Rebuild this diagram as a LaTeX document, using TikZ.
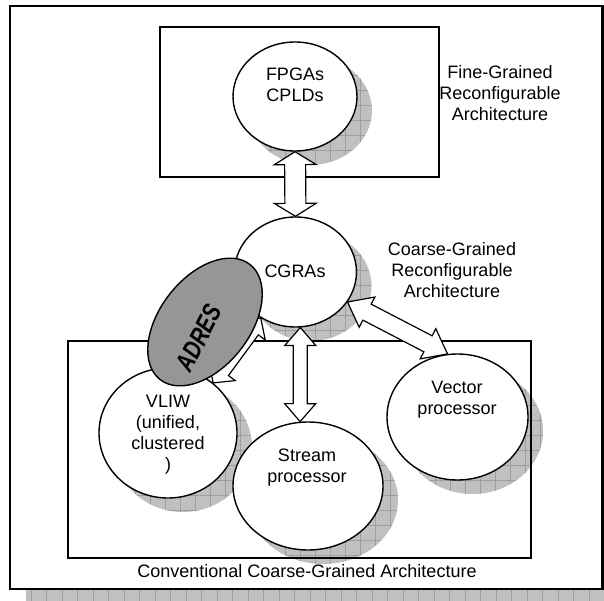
\documentclass[tikz,border=0pt]{standalone}
\usepackage{fontspec}
\setmainfont{Liberation Sans}
\usetikzlibrary{calc,shapes.geometric}

\definecolor{shadefill}{RGB}{192,192,192}
\definecolor{shadegrid}{RGB}{158,158,158}
\definecolor{adresfill}{RGB}{150,150,150}

\tikzset{
  bubble/.style={ellipse, draw=black, line width=1.4pt, fill=white, inner sep=0pt},
  region/.style={draw=black, line width=1.4pt},
  caption/.style={font=\fontsize{18}{21}\selectfont, align=center, inner sep=0pt},
  blockarrow/.style={draw=black, line width=1.2pt, fill=white, line join=miter},
  gridlines/.style={draw=shadegrid, line width=0.5pt},
}

% gridded drop shadow of an ellipse: centre x, centre y, x radius, y radius
\newcommand\ellshadow[4]{%
  \fill[shadefill] (#1+15,#2+14) ellipse [x radius=#3, y radius=#4];
  \begin{scope}
    \clip (#1+15,#2+14) ellipse [x radius=#3, y radius=#4];
    \draw[gridlines, step=15pt] (0,0) grid (604,601);
  \end{scope}}

% hollow double-headed block arrow between two points:
% #1,#2 tips, #3 head length, #4 half head width, #5 half shaft width
\newcommand\dblarrow[5]{%
  \draw[blockarrow] (#1)
    -- ($(#1)!#3!(#2)!#4!90:(#2)$)
    -- ($(#1)!#3!(#2)!#5!90:(#2)$)
    -- ($(#2)!#3!(#1)!#5!-90:(#1)$)
    -- ($(#2)!#3!(#1)!#4!-90:(#1)$)
    -- (#2)
    -- ($(#2)!#3!(#1)!#4!90:(#1)$)
    -- ($(#2)!#3!(#1)!#5!90:(#1)$)
    -- ($(#1)!#3!(#2)!#5!-90:(#2)$)
    -- ($(#1)!#3!(#2)!#4!-90:(#2)$)
    -- cycle;}

\begin{document}
\begin{tikzpicture}[x=1pt, y=-1pt]
  \useasboundingbox (0,0) rectangle (604,601);

  % outer frame with its gridded shadow
  \begin{scope}
    \clip (0,0) rectangle (604,601);
    \fill[shadefill] (26,20) rectangle (618,604);
    \begin{scope}
      \clip (26,20) rectangle (618,604);
      \draw[gridlines, step=15.5pt] (0,0) grid (620,620);
    \end{scope}
  \end{scope}
  \draw[line width=2.4pt, fill=white] (10,6) rectangle (602.5,589);

  % shadows of the bubbles
  \ellshadow{295}{96.5}{62}{54.5}
  \ellshadow{295.5}{272}{61}{55}
  \ellshadow{168}{433}{69}{65}
  \ellshadow{308}{486}{75}{64}
  \ellshadow{457.5}{417}{70.5}{63}

  % the two architecture regions
  \draw[region] (160,27) rectangle (439,177);
  \draw[region] (68,341) rectangle (531,558);

  % bubbles
  \node[bubble, minimum width=124pt, minimum height=109pt] (fpga) at (295,96.5) {};
  \node[bubble, minimum width=122pt, minimum height=110pt] (cgra) at (295.5,272) {};
  \node[bubble, minimum width=141pt, minimum height=126pt] (vector) at (457.5,417) {};
  \node[bubble, minimum width=138pt, minimum height=130pt] (vliw) at (168,433) {};
  \node[bubble, minimum width=150pt, minimum height=128pt] (stream) at (308,486) {};

  % connections
  \dblarrow{fpga.south}{cgra.north}{13pt}{21pt}{10.5pt}
  \dblarrow{cgra.-85}{stream.97}{18pt}{15.5pt}{7pt}
  \dblarrow{cgra.-30}{vector.99}{22pt}{17pt}{9pt}
  \dblarrow{cgra.233}{vliw.48}{15pt}{16.5pt}{8pt}

  % ADRES sits across CGRAs and VLIW
  \node[bubble, fill=adresfill, minimum width=146pt, minimum height=90pt, rotate=52] (adres) at (205,322) {};

  % labels
  \node[caption] (fpgatxt) at (295,84.5) {FPGAs\\CPLDs};
  \node[caption] (finetxt) at (500,93) {Fine-Grained\\Reconfigurable\\Architecture};
  \node[caption] (cgratxt) at (295,271) {CGRAs};
  \node[caption] (coarsetxt) at (452,270) {Coarse-Grained\\Reconfigurable\\Architecture};
  \node[caption] (vliwtxt) at (168,435) {VLIW\\(unified,\\clustered\\)};
  \node[caption] (streamtxt) at (307,468) {Stream\\processor};
  \node[caption] (vectortxt) at (457,400) {Vector\\processor};
  \node[caption] (convtxt) at (307,571) {Conventional Coarse-Grained Architecture};
  \node[caption, font=\fontsize{26}{28}\selectfont\bfseries\itshape, rotate=63] (adrestxt) at (199,338) {\scalebox{0.78}[1]{ADRES}};
\end{tikzpicture}
\end{document}
